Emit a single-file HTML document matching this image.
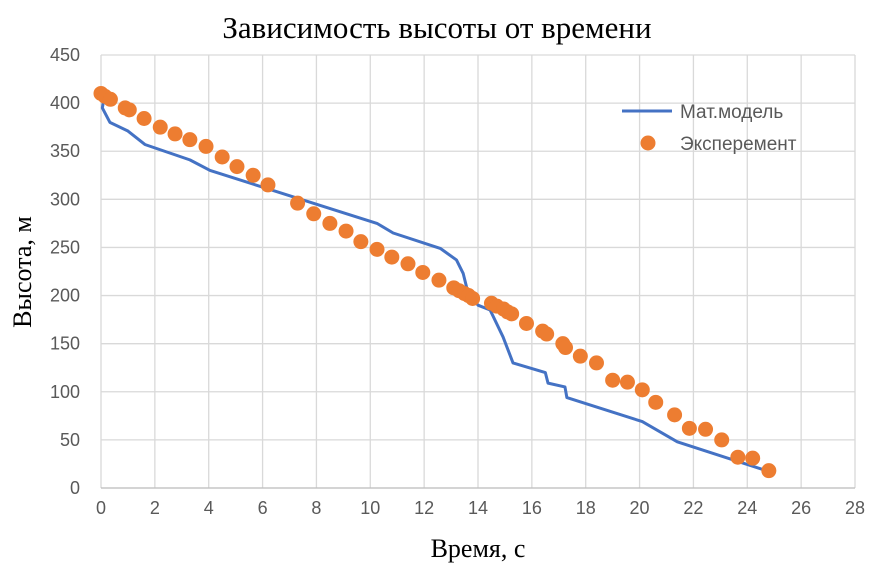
<!DOCTYPE html>
<html><head><meta charset="utf-8"><style>
body{margin:0;background:#fff}
svg text{font-family:"Liberation Sans",sans-serif}
.serif{font-family:"Liberation Serif","DejaVu Serif",serif}
</style></head><body>
<svg id="chart" width="877" height="565">
<rect width="877" height="565" fill="#fff"/>
<text class="serif" x="437" y="38" font-size="31" text-anchor="middle">Зависимость высоты от времени</text>
<g id="grid"></g>
<g id="axes"></g>
<g id="series"></g>
<text class="serif" x="478" y="557" font-size="26" text-anchor="middle">Время, с</text>
<text class="serif" transform="translate(31,272) rotate(-90)" font-size="26" text-anchor="middle">Высота, м</text>
<g>
<line x1="622" y1="111" x2="672" y2="111" stroke="#4472c4" stroke-width="3"/>
<text x="680" y="118" font-size="19" fill="#595959">Мат.модель</text>
<circle cx="648" cy="143" r="7.5" fill="#ed7d31"/>
<text x="680" y="150" font-size="19" fill="#595959">Эксперемент</text>
</g>
</svg>
<script>
const xTicks=[0,2,4,6,8,10,12,14,16,18,20,22,24,26,28];
const yTicks=[0,50,100,150,200,250,300,350,400,450];
const modelT=[0,0.1,0.05,0.33,1.0,1.63,3.3,4.05,10.25,10.85,12.6,13.2,13.45,13.6,14.0,14.45,14.93,15.3,16.5,16.6,17.23,17.3,20.1,21.4,24.6];
const modelH=[410,403,395,380,371,357,341,330,275,265,249,237,223,206,190,185,157,130,120,109,105,94,69,48,19];
const expT=[0,0.15,0.35,0.9,1.05,1.6,2.2,2.75,3.3,3.9,4.5,5.05,5.65,6.2,7.3,7.9,8.5,9.1,9.65,10.25,10.8,11.4,11.95,12.55,13.1,13.3,13.5,13.65,13.8,14.5,14.7,14.95,15.1,15.25,15.8,16.4,16.55,17.15,17.25,17.8,18.4,19.0,19.55,20.1,20.6,21.3,21.85,22.45,23.05,23.65,24.2,24.8];
const expH=[410,407,404,395,393,384,375,368,362,355,344,334,325,315,296,285,275,267,256,248,240,233,224,216,208,205,202,200,197,192,189,186,183,181,171,163,160,150,146,137,130,112,110,102,89,76,62,61,50,32,31,18];
const X0=101,X1=855,Y0=488,Y1=55;
const sx=v=>X0+(v-0)/(28-0)*(X1-X0);
const sy=v=>Y0-(v-0)/(450-0)*(Y0-Y1);
const NS="http://www.w3.org/2000/svg";
function mk(tag,attrs,parent){const e=document.createElementNS(NS,tag);for(const k in attrs)e.setAttribute(k,attrs[k]);parent.appendChild(e);return e;}
const grid=document.getElementById('grid'),axes=document.getElementById('axes'),series=document.getElementById('series');
xTicks.forEach(t=>{
 const l=mk('line',{x1:sx(t),x2:sx(t),y1:Y1,y2:Y0,stroke:'#d9d9d9','stroke-width':1.3},grid);
 
 
 const tx=mk('text',{x:sx(t),y:514,'font-size':18,fill:'#595959','text-anchor':'middle'},axes);
 tx.textContent=t;
 
 
});
yTicks.forEach(t=>{
 const l=mk('line',{x1:X0,x2:X1,y1:sy(t),y2:sy(t),stroke:'#d9d9d9','stroke-width':1.3},grid);
 
 
 const tx=mk('text',{x:80,y:sy(t)+6,'font-size':18,fill:'#595959','text-anchor':'end'},axes);
 tx.textContent=t;
 
 
});
const ax=mk('line',{x1:X0,x2:X1,y1:Y0,y2:Y0,stroke:'#bfbfbf','stroke-width':1.3},axes);


const pl=mk('polyline',{points:modelT.map((t,i)=>sx(t)+','+sy(modelH[i])).join(' '),fill:'none',stroke:'#4472c4','stroke-width':3,'stroke-linejoin':'round'},series);


expT.forEach((t,i)=>{
 const c=mk('circle',{cx:sx(t),cy:sy(expH[i]),r:7.5,fill:'#ed7d31'},series);
 
 
});
</script>
</body></html>
